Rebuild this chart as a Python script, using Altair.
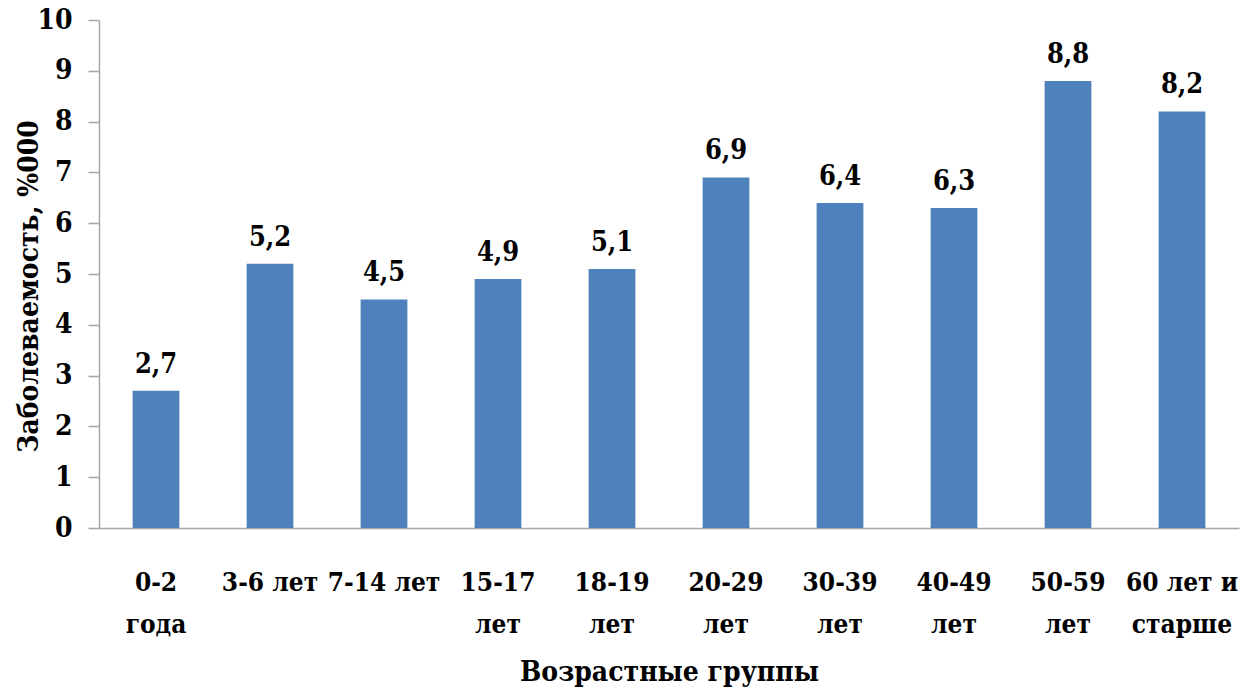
import altair as alt
import pandas as pd

categories = ["0-2 года", "3-6 лет", "7-14 лет", "15-17 лет", "18-19 лет",
              "20-29 лет", "30-39 лет", "40-49 лет", "50-59 лет", "60 лет и старше"]
label_lines = [["0-2", "года"], ["3-6 лет"], ["7-14 лет"], ["15-17", "лет"],
               ["18-19", "лет"], ["20-29", "лет"], ["30-39", "лет"], ["40-49", "лет"],
               ["50-59", "лет"], ["60 лет и", "старше"]]
values = [2.7, 5.2, 4.5, 4.9, 5.1, 6.9, 6.4, 6.3, 8.8, 8.2]
y_ticks = [0, 1, 2, 3, 4, 5, 6, 7, 8, 9, 10]

df = pd.DataFrame({"group": categories, "value": values})

FONT = "DejaVu Serif Condensed, DejaVu Serif"

label_expr = " : ".join(
    f"datum.label == '{c}' ? {lines!r}" for c, lines in zip(categories, label_lines)
) + " : datum.label"

x = alt.X(
    "group:N",
    sort=categories,
    scale=alt.Scale(paddingInner=0.59, paddingOuter=0.295),
    axis=alt.Axis(
        title="Возрастные группы",
        labelExpr=label_expr,
        labelAngle=0,
        labelFont=FONT,
        labelFontSize=26,
        labelFontWeight="bold",
        labelColor="black",
        labelLineHeight=42,
        labelPadding=41,
        labelBaseline="top",
        ticks=False,
        domainColor="#a6a6a6",
        domainWidth=1.5,
        titleFont=FONT,
        titleFontSize=28,
        titleFontWeight="bold",
        titleColor="black",
        titleBaseline="alphabetic",
        titleY=152,
        labelOverlap=False,
    ),
)

y = alt.Y(
    "value:Q",
    scale=alt.Scale(domain=[0, 10], nice=False),
    axis=alt.Axis(
        title="Заболеваемость, %000",
        values=y_ticks,
        grid=False,
        tickSize=11,
        tickColor="#a6a6a6",
        domainColor="#a6a6a6",
        domainWidth=1.5,
        tickWidth=1.5,
        labelFont=FONT,
        labelFontSize=28,
        labelFontWeight="bold",
        labelColor="black",
        labelPadding=16,
        titleFont=FONT,
        titleFontSize=28,
        titleFontWeight="bold",
        titleColor="black",
        titleBaseline="alphabetic",
        titleX=-62,
        titleY=266,
    ),
)

bars = alt.Chart(df).mark_bar(color="#4F81BD").encode(x=x, y=y)

texts = alt.Chart(df).transform_calculate(
    label="replace(format(datum.value, '.1f'), '.', ',')"
).mark_text(
    font=FONT, fontSize=27, fontWeight="bold", color="black",
    baseline="alphabetic", dy=-18,
).encode(
    x=alt.X("group:N", sort=categories),
    y=alt.Y("value:Q"),
    text="label:N",
)

chart = (bars + texts).properties(
    width=1140,
    height=508,
    autosize=alt.AutoSizeParams(type="none"),
    padding={"left": 91, "top": 12, "right": 7, "bottom": 160},
).configure_view(stroke=None)

chart.save("out.html", embed_options={"renderer": "svg", "actions": False})
